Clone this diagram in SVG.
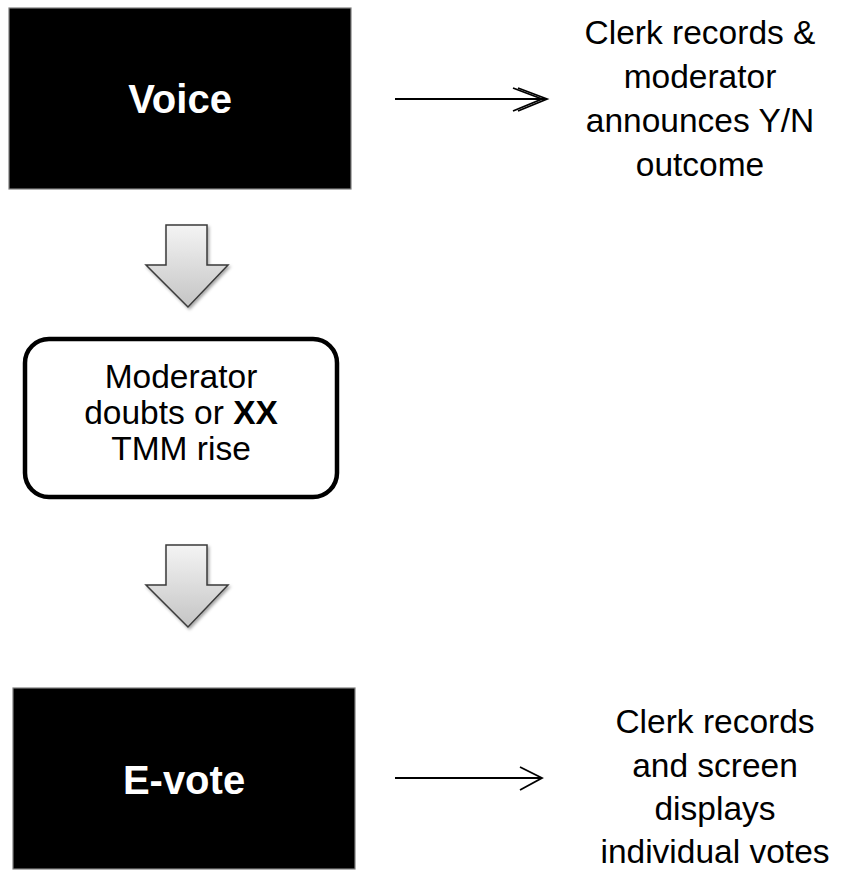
<svg xmlns="http://www.w3.org/2000/svg" width="841" height="870" viewBox="0 0 841 870">
  <defs>
    <style>
      .blk { fill: #000; stroke: #7f7f7f; stroke-width: 1.2; }
      .btxt { font-family: "Liberation Sans", Arial, sans-serif; font-weight: bold; font-size: 40px; fill: #fff; text-anchor: middle; }
      .txt { font-family: "Liberation Sans", Arial, sans-serif; font-size: 33.5px; fill: #000; text-anchor: middle; }
      .rbox { fill: #fff; stroke: #000; stroke-width: 4.5; }
      .conn { fill: none; stroke: #000; stroke-width: 1.8; }
      .barrow { fill: url(#bg); stroke: #3a3a3a; stroke-width: 1.5; stroke-linejoin: miter; filter: url(#sh); }
    </style>
    <linearGradient id="bg" x1="0" y1="0" x2="0" y2="1">
      <stop offset="0" stop-color="#f4f4f4"/>
      <stop offset="1" stop-color="#c4c4c4"/>
    </linearGradient>
    <filter id="sh" x="-20%" y="-20%" width="140%" height="140%">
      <feDropShadow dx="1.5" dy="2" stdDeviation="1.5" flood-color="#000" flood-opacity="0.35"/>
    </filter>
  </defs>

  <g id="voice">
    <rect class="blk" x="9" y="8" width="342" height="181"/>
    <text class="btxt" x="180" y="113">Voice</text>
  </g>

  <g id="voice-outcome">
    <text class="txt" x="700" y="44">Clerk records &amp;</text>
    <text class="txt" x="700" y="88">moderator</text>
    <text class="txt" x="700" y="132">announces Y/N</text>
    <text class="txt" x="700" y="176">outcome</text>
  </g>

  <g id="doubt">
    <rect class="rbox" x="25" y="339" width="312" height="158" rx="24" ry="24"/>
    <text class="txt" x="181" y="388">Moderator</text>
    <text class="txt" x="181" y="424">doubts or <tspan font-weight="bold">XX</tspan></text>
    <text class="txt" x="181" y="460">TMM rise</text>
  </g>

  <g id="evote">
    <rect class="blk" x="13" y="688" width="342" height="181"/>
    <text class="btxt" x="184" y="794">E-vote</text>
  </g>

  <g id="evote-outcome">
    <text class="txt" x="715" y="733">Clerk records</text>
    <text class="txt" x="715" y="777">and screen</text>
    <text class="txt" x="715" y="820">displays</text>
    <text class="txt" x="715" y="863">individual votes</text>
  </g>

  <g id="connectors">
    <line class="conn" x1="395" y1="99" x2="545" y2="99"/>
    <polyline class="conn" points="518,88 547,99 518,111"/>
    <polyline class="conn" points="513,88 542,99 513,111"/>
    <line class="conn" x1="395" y1="778" x2="541" y2="778"/>
    <polyline class="conn" points="520,767 542,778 520,790"/>
    <path class="barrow" d="M166,225 H207 V265 H228 L188,307 L146,265 H166 Z"/>
    <path class="barrow" d="M166,545 H207 V585 H228 L188,627 L146,585 H166 Z"/>
  </g>
</svg>
